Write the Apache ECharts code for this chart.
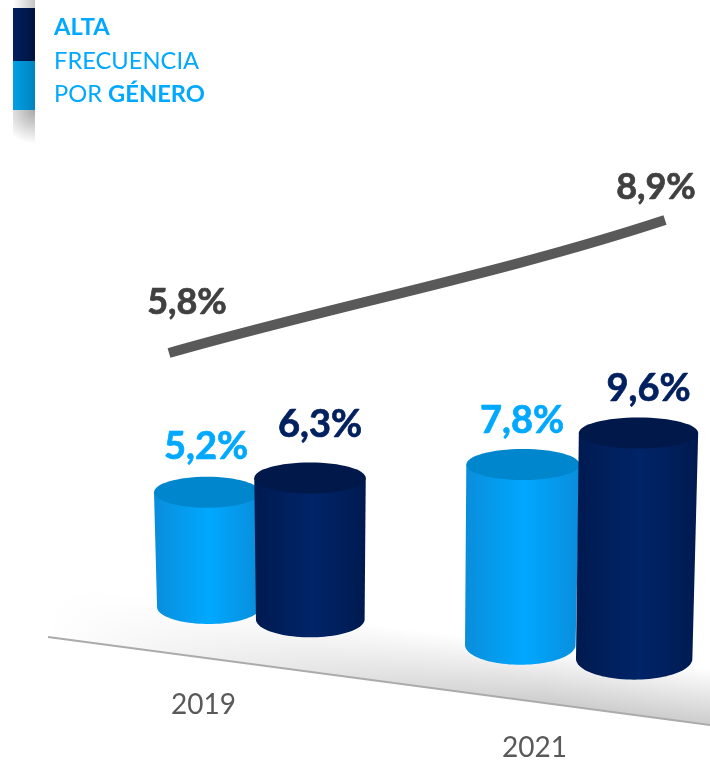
<!DOCTYPE html>
<html>
<head>
<meta charset="utf-8">
<style>html,body{margin:0;padding:0;background:#fff}#main{width:710px;height:761px}</style>
<script src="https://cdn.jsdelivr.net/npm/echarts@6/dist/echarts.min.js"></script>
</head>
<body>
<div id="main"></div>
<script>
// datos
var years = ['2019', '2021'];
var valLight = [5.2, 7.8];
var valDark = [6.3, 9.6];
var valTotal = [5.8, 8.9];
var fmt = function (v) { return String(v).replace('.', ',') + '%'; };

// vista inclinada
var FONT = 'Lato';
var anchorX = 207, slope = 0.12, kHeight = 0.00015, kWidth = 0.00022;
var lightDx = [-52.5, -55.5], darkDx = [50.5, 60];

function cylinder(color, dxs, rx0, labelDx, labelDy) {
	return function (params, api) {
		var i = api.value(0), v = api.value(1);
		var c = api.coord([i, 0]);
		var cx = c[0] + dxs[i];
		var d = cx - anchorX;
		var unit = api.size([0, 1])[1] * (1 + d * kHeight);
		var baseY = c[1] + slope * d;
		var topY = baseY - v * unit;
		var rx = rx0 * (1 + d * kWidth);
		var rxB = rx * 0.975;
		var cxB = cx - (cx - 330) * 0.014;
		var ryT = 15.5, ryB = 17 + Math.max(d, 0) * 0.009;

		var pts = [[cx - rx, topY], [cx + rx, topY]];
		for (var a = 0; a <= 48; a++) {
			var t = Math.PI * a / 48;
			pts.push([cxB + rxB * Math.cos(t), baseY + ryB * Math.sin(t)]);
		}
		return {
			type: 'group',
			children: [{
				type: 'polygon',
				shape: { points: pts },
				style: {
					fill: {
						type: 'linear', x: 0, y: 0, x2: 1, y2: 0,
						colorStops: [{ offset: 0, color: color.edge }, { offset: 0.52, color: color.mid }, { offset: 1, color: color.edge }]
					}
				}
			}, {
				type: 'ellipse',
				shape: { cx: cx, cy: topY, rx: rx, ry: ryT },
				style: { fill: color.top }
			}, {
				type: 'text',
				style: {
					text: fmt(v), x: cx + labelDx, y: topY - ryT + labelDy[i],
					fill: color.label, stroke: color.label, lineWidth: 0.7,
					fontFamily: FONT, fontWeight: 'bold', fontSize: 38,
					align: 'center', verticalAlign: 'middle'
				}
			}]
		};
	};
}

function floorItem(params, api) {
	var c = api.coord([0, 0]);
	var yAt = function (x) { return c[1] + 23.6 + 0.133 * x; };
	var h = 55;
	var band = [[48, yAt(48)], [710, yAt(710)], [710, yAt(710) - h], [48, yAt(48) - h]];
	return {
		type: 'group',
		children: [{
			type: 'polygon',
			shape: { points: band },
			style: {
				fill: {
					type: 'linear', global: true, x: 400, y: yAt(400), x2: 400 + h * 0.13, y2: yAt(400) - h,
					colorStops: [{ offset: 0, color: 'rgba(175,175,175,0.62)' }, { offset: 1, color: 'rgba(175,175,175,0)' }]
				}
			}
		}, {
			// la sombra se desvanece hacia la izquierda
			type: 'polygon',
			shape: { points: band },
			style: {
				fill: {
					type: 'linear', global: true, x: 48, y: 0, x2: 550, y2: 0,
					colorStops: [{ offset: 0, color: 'rgba(255,255,255,1)' }, { offset: 1, color: 'rgba(255,255,255,0)' }]
				}
			}
		}, {
			type: 'line',
			shape: { x1: 48, y1: yAt(48), x2: 710, y2: yAt(710) },
			style: { stroke: '#ababab', lineWidth: 2 }
		}]
	};
}

function yearItem(params, api) {
	var i = api.value(0);
	var c = api.coord([i, 0]);
	var x = c[0] + [-56, -44][i];
	return {
		type: 'text',
		style: {
			text: years[i], x: x, y: c[1] + slope * (x - anchorX) + [98, 102][i],
			fill: '#595959', fontFamily: FONT, fontSize: 28, align: 'center', verticalAlign: 'middle'
		}
	};
}

function totalLine(params, api) {
	if (api.value(0) !== 0) return null;
	var a = api.coord([0, valTotal[0]]);
	var b = api.coord([1, valTotal[1]]);
	var dx = b[0] - a[0], dy = b[1] - a[1];
	var label = function (p, v, ox, oy) {
		return {
			type: 'text',
			style: {
				text: fmt(v), x: p[0] + ox, y: p[1] + oy,
				fill: '#404040', stroke: '#404040', lineWidth: 0.7,
				fontFamily: FONT, fontWeight: 'bold', fontSize: 36,
				align: 'center', verticalAlign: 'middle'
			}
		};
	};
	return {
		type: 'group',
		children: [{
			type: 'bezierCurve',
			shape: {
				x1: a[0], y1: a[1], x2: b[0], y2: b[1],
				cpx1: a[0] + dx / 3, cpy1: a[1] + dy / 3 - 3,
				cpx2: a[0] + dx * 2 / 3, cpy2: a[1] + dy * 2 / 3 + 10
			},
			style: { stroke: '#595959', lineWidth: 10, fill: null, lineCap: 'butt' }
		}, label(a, valTotal[0], 18, -51), label(b, valTotal[1], -9, -33)]
	};
}

var pairs = function (arr) { return arr.map(function (v, i) { return [i, v]; }); };

var option = {
	animation: false,
	backgroundColor: '#fff',
	grid: [
		{ left: 100, width: 638, top: 342, height: 265, outerBoundsMode: 'none' },
		{ left: 169, width: 496, top: 220, height: 133, outerBoundsMode: 'none' }
	],
	xAxis: [
		{ type: 'category', gridIndex: 0, data: years, show: false },
		{ type: 'category', gridIndex: 1, data: years, show: false, boundaryGap: false }
	],
	yAxis: [
		{ type: 'value', gridIndex: 0, min: 0, max: 12, show: false },
		{ type: 'value', gridIndex: 1, min: 5.8, max: 8.9, show: false }
	],
	graphic: [
		{ type: 'rect', shape: { x: 13, y: 8, width: 22, height: 53 }, style: { fill: { type: 'linear', x: 0, y: 0, x2: 1, y2: 0, colorStops: [{ offset: 0, color: '#002060' }, { offset: 1, color: '#00133f' }] } } },
		{ type: 'rect', shape: { x: 13, y: 61, width: 22, height: 49 }, style: { fill: { type: 'linear', x: 0, y: 0, x2: 1, y2: 0, colorStops: [{ offset: 0, color: '#00a0e6' }, { offset: 1, color: '#0083bd' }] } } },
		{ type: 'rect', shape: { x: 13, y: 110, width: 22, height: 46 }, style: { fill: { type: 'radial', global: true, x: 35, y: 110, r: 34, colorStops: [{ offset: 0, color: '#a8a8a8' }, { offset: 1, color: '#ffffff' }] } } },
		{ type: 'rect', shape: { x: 13, y: 0, width: 22, height: 8 }, style: { fill: { type: 'linear', x: 0, y: 0, x2: 1, y2: 0, colorStops: [{ offset: 0, color: '#ffffff' }, { offset: 1, color: '#c4c4c4' }] } } },
		{
			type: 'text', x: 54, y: 11,
			style: {
				text: '{b|ALTA}\n{n|FRECUENCIA}\n{n|POR }{b|GÉNERO}',
				fill: '#00a8ff', fontFamily: FONT,
				rich: {
					b: { fontFamily: FONT, fontWeight: 'bold', fontSize: 23.7, lineHeight: 33.5, fill: '#00a8ff' },
					n: { fontFamily: FONT, fontSize: 23.7, lineHeight: 33.5, fill: '#00a8ff' }
				}
			}
		}
	],
	series: [
		{ type: 'custom', name: 'piso', xAxisIndex: 0, yAxisIndex: 0, clip: false, silent: true, renderItem: floorItem, data: [[0, 0]], z: 1 },
		{ type: 'custom', name: 'año', xAxisIndex: 0, yAxisIndex: 0, clip: false, silent: true, renderItem: yearItem, data: pairs([0, 0]), z: 1 },
		{
			type: 'custom', name: 'claro', xAxisIndex: 0, yAxisIndex: 0, clip: false, z: 2,
			renderItem: cylinder({ edge: '#0a8ddb', mid: '#00a8ff', top: '#0086cc', label: '#00a8ff' }, lightDx, 53, -1, [-30, -28]),
			data: pairs(valLight)
		},
		{
			type: 'custom', name: 'oscuro', xAxisIndex: 0, yAxisIndex: 0, clip: false, z: 3,
			renderItem: cylinder({ edge: '#001a50', mid: '#002468', top: '#00184a', label: '#002060' }, darkDx, 54.5, 10, [-38, -29]),
			data: pairs(valDark)
		},
		{ type: 'custom', name: 'total', xAxisIndex: 1, yAxisIndex: 1, clip: false, z: 4, renderItem: totalLine, data: pairs(valTotal) }
	]
};

var chart = echarts.init(document.getElementById('main'));
chart.setOption(option);
</script>
</body>
</html>
